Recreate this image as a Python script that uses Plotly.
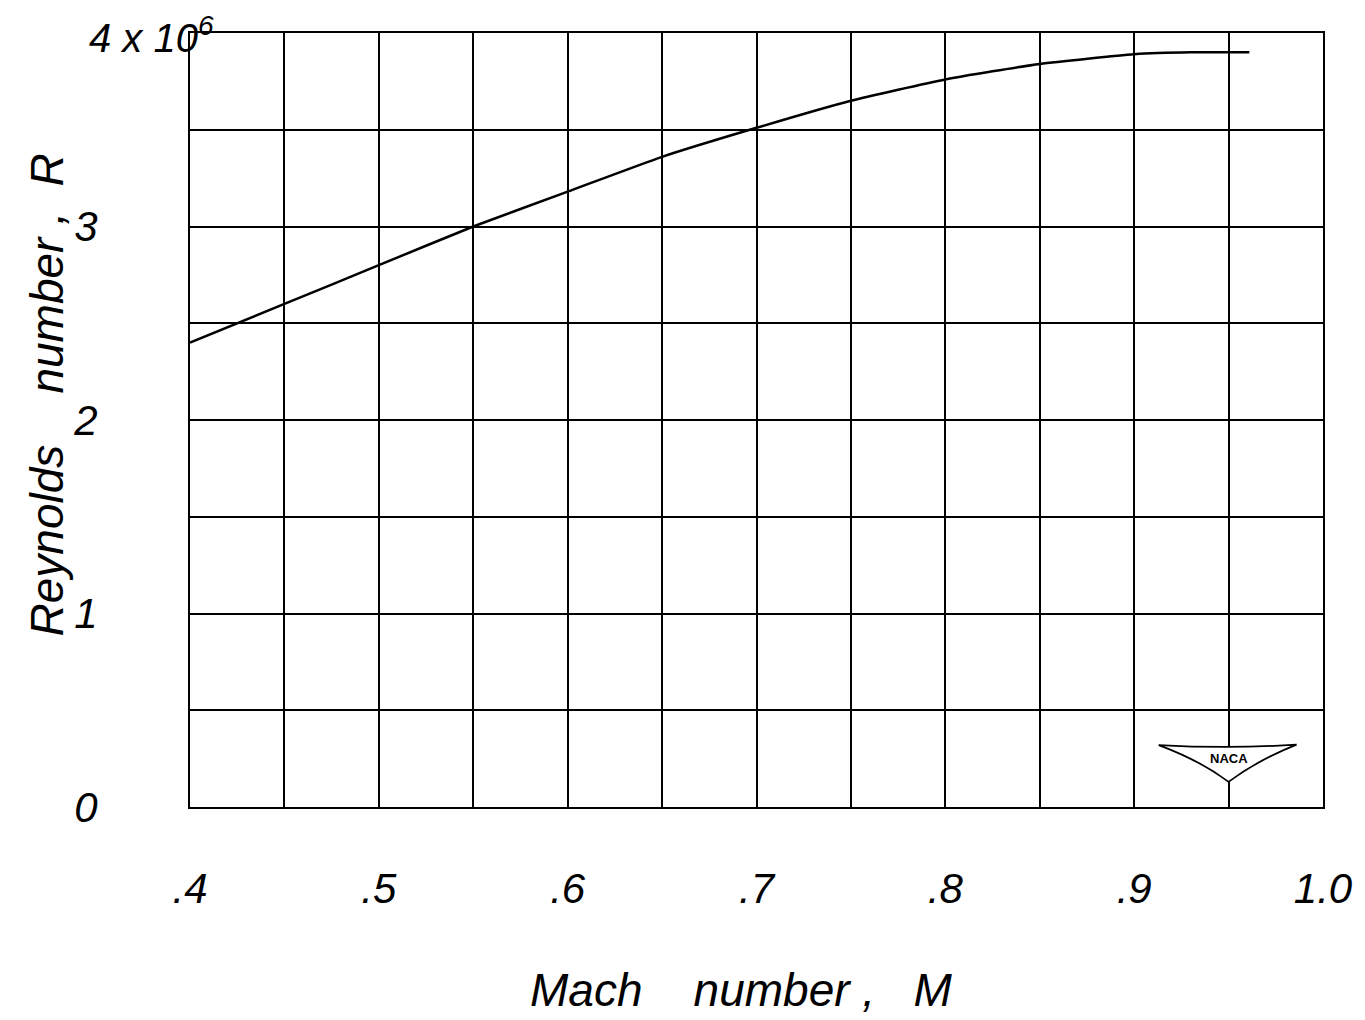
import plotly.graph_objects as go

# Data
mach = [0.40, 0.45, 0.50, 0.55, 0.60, 0.65, 0.70, 0.75, 0.80, 0.85, 0.90, 0.93, 0.961]
reynolds = [2.40e6, 2.60e6, 2.80e6, 3.00e6, 3.18e6, 3.36e6, 3.51e6, 3.65e6, 3.76e6, 3.84e6, 3.89e6, 3.90e6, 3.90e6]

x_tickvals = [0.4, 0.5, 0.6, 0.7, 0.8, 0.9, 1.0]
x_ticktext = [".4", ".5", ".6", ".7", ".8", ".9", "1.0"]
y_tickvals = [0, 1e6, 2e6, 3e6]
y_ticktext = ["0", "1", "2", "3"]

FONT = "Liberation Sans"

fig = go.Figure()
fig.add_trace(go.Scatter(
    x=mach, y=reynolds, mode="lines",
    line=dict(color="black", width=2.5, shape="spline", smoothing=0.5),
    showlegend=False, hoverinfo="skip",
))

axis_common = dict(
    showline=True, mirror=True, linecolor="black", linewidth=2,
    showgrid=True, gridcolor="black", gridwidth=2,
    zeroline=False, ticks="",
)

fig.update_xaxes(
    range=[0.4, 1.0], tickvals=x_tickvals, ticktext=x_ticktext,
    minor=dict(dtick=0.05, showgrid=True, gridcolor="black", gridwidth=2),
    tickfont=dict(family=FONT, size=42, color="black", style="italic"),
    ticklabelstandoff=44,
    **axis_common,
)
fig.update_yaxes(
    range=[0, 4e6], tickvals=y_tickvals, ticktext=y_ticktext,
    minor=dict(dtick=0.5e6, showgrid=True, gridcolor="black", gridwidth=2),
    tickfont=dict(family=FONT, size=42, color="black", style="italic"),
    ticklabelstandoff=82,
    **axis_common,
)

title_font = dict(family=FONT, size=46, color="black", style="italic")

# Axis titles
fig.add_annotation(
    x=0.486, y=-0.236, xref="paper", yref="paper", xanchor="center", yanchor="middle",
    text="Mach    number ,   M", showarrow=False, font=title_font,
)
fig.add_annotation(
    x=-0.126, y=0.532, xref="paper", yref="paper", xanchor="center", yanchor="middle",
    text="Reynolds    number ,  R", showarrow=False, font=title_font, textangle=-90,
)

# Top y label "4 x 10^6"
fig.add_annotation(
    x=0.4, y=4e6, xref="x", yref="y", xanchor="right", yanchor="middle",
    xshift=26, yshift=-2,
    text="4 x 10<sup>6</sup>", showarrow=False,
    font=dict(family=FONT, size=40, color="black", style="italic"),
)

# NACA logo (wing)
fig.add_shape(
    type="path", xref="x", yref="y",
    path="M 0.913,320000 Q 0.95,300000 0.986,322000 "
         "Q 0.965,240000 0.95,130000 Q 0.935,240000 0.913,320000 Z",
    fillcolor="white", line=dict(color="black", width=1.8), layer="above",
)
fig.add_annotation(
    x=0.95, y=250000, xref="x", yref="y", text="<b>NACA</b>", showarrow=False,
    font=dict(family=FONT, size=13, color="black"),
)

fig.update_layout(
    width=1357, height=1012, autosize=False,
    margin=dict(l=182, r=42, t=25, b=213),
    paper_bgcolor="white", plot_bgcolor="white",
)

fig.write_html("out.html")
